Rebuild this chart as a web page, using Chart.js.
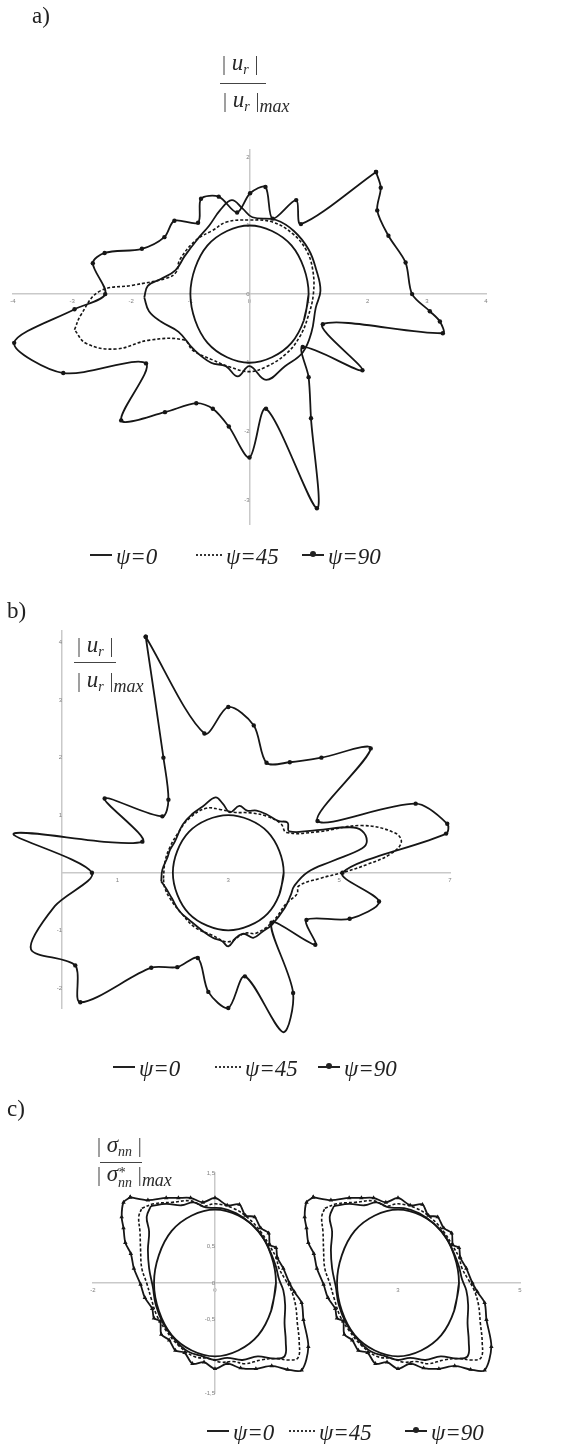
<!DOCTYPE html>
<html>
<head>
<meta charset="utf-8">
<script src="https://cdn.jsdelivr.net/npm/chart.js@4.4.0/dist/chart.umd.min.js"></script>
<style>
  body { margin: 0; background: #fff; }
  #page { position: relative; width: 565px; height: 1444px; overflow: hidden; font-family: "Liberation Serif", "DejaVu Serif", serif; color: #222; filter: grayscale(100%); }
  .abs { position: absolute; white-space: nowrap; }
  .lbl { font-size: 23px; line-height: 22px; }
  .frac { font-size: 23px; line-height: 24px; color: #2a2a2a; }
  .frac .bar { font-style: normal; color: #444; font-size: 20px; }
  .frac sub { font-size: 14px; vertical-align: -4px; }
  .frac .mx { font-style: italic; font-size: 18px; vertical-align: -5px; }
  .bar-line { position: absolute; height: 1px; background: #444; }
  .stk { display: inline-block; vertical-align: -6px; line-height: 10px; font-size: 14px; font-style: italic; }
  .leg { font-size: 23px; line-height: 24px; color: #222; }
  .leg i { font-style: italic; }
  .sym { display: inline-block; position: relative; vertical-align: middle; margin-right: 4px; height: 8px; }
  .sym.solid { width: 22px; border-top: 2px solid #222; }
  .sym.dash { width: 26px; border-top: 2px dotted #333; }
  .sym.mark { width: 22px; border-top: 2px solid #222; }
  .sym.mark::after { content: ""; position: absolute; left: 8px; top: -5px; width: 6px; height: 6px; border-radius: 50%; background: #222; }
  .cv { position: absolute; left: 0; }
</style>
</head>
<body>
<div id="page">
  <!-- a) -->
  <div class="abs lbl" style="left:32px;top:5px">a)</div>
  <div class="abs frac" style="left:222px;top:51px"><span class="bar">|</span> <i>u</i><sub><i>r</i></sub> <span class="bar">|</span></div>
  <div class="bar-line" style="left:220px;top:83px;width:46px"></div>
  <div class="abs frac" style="left:223px;top:88px"><span class="bar">|</span> <i>u</i><sub><i>r</i></sub> <span class="bar">|</span><span class="mx">max</span></div>
  <canvas id="chartA" class="cv" width="565" height="400" style="top:140px"></canvas>
  <div class="abs leg" style="left:90px;top:545px"><span class="sym solid"></span><i>ψ=0</i></div>
  <div class="abs leg" style="left:196px;top:545px"><span class="sym dash"></span><i>ψ=45</i></div>
  <div class="abs leg" style="left:302px;top:545px"><span class="sym mark"></span><i>ψ=90</i></div>

  <!-- b) -->
  <div class="abs lbl" style="left:7px;top:600px">b)</div>
  <div class="abs frac" style="left:77px;top:633px"><span class="bar">|</span> <i>u</i><sub><i>r</i></sub> <span class="bar">|</span></div>
  <div class="bar-line" style="left:74px;top:662px;width:42px"></div>
  <div class="abs frac" style="left:77px;top:668px"><span class="bar">|</span> <i>u</i><sub><i>r</i></sub> <span class="bar">|</span><span class="mx">max</span></div>
  <canvas id="chartB" class="cv" width="565" height="420" style="top:620px"></canvas>
  <div class="abs leg" style="left:113px;top:1057px"><span class="sym solid"></span><i>ψ=0</i></div>
  <div class="abs leg" style="left:215px;top:1057px"><span class="sym dash"></span><i>ψ=45</i></div>
  <div class="abs leg" style="left:318px;top:1057px"><span class="sym mark"></span><i>ψ=90</i></div>

  <!-- c) -->
  <div class="abs lbl" style="left:7px;top:1098px">c)</div>
  <div class="abs frac" style="left:97px;top:1133px"><span class="bar">|</span> <i>σ</i><sub><i>nn</i></sub> <span class="bar">|</span></div>
  <div class="bar-line" style="left:100px;top:1162px;width:42px"></div>
  <div class="abs frac" style="left:97px;top:1162px"><span class="bar">|</span> <i>σ</i><span class="stk">*<br>nn</span> <span class="bar">|</span><span class="mx">max</span></div>
  <canvas id="chartC" class="cv" width="565" height="240" style="top:1165px"></canvas>
  <div class="abs leg" style="left:207px;top:1421px"><span class="sym solid"></span><i>ψ=0</i></div>
  <div class="abs leg" style="left:289px;top:1421px"><span class="sym dash"></span><i>ψ=45</i></div>
  <div class="abs leg" style="left:405px;top:1421px"><span class="sym mark"></span><i>ψ=90</i></div>
</div>

<script>
// ---- panel a: |u_r| / |u_r|max ----
const aCircle = [[1,0],[0.92,-0.38],[0.71,-0.71],[0.38,-0.92],[0,-1],[-0.38,-0.92],[-0.71,-0.71],[-0.92,-0.38],[-1,0],[-0.92,0.38],[-0.71,0.71],[-0.38,0.92],[0,1],[0.38,0.92],[0.71,0.71],[0.92,0.38],[1,0],[0.92,-0.38]];
const aPsi0 = [[-1.78,-0.05],[-1.72,0.12],[-1.5,0.22],[-1.25,0.35],[-1.1,0.55],[-0.88,0.8],[-0.68,1.0],[-0.5,1.22],[-0.3,1.37],[-0.12,1.25],[0.05,1.12],[0.45,1.08],[0.75,0.92],[1.0,0.65],[1.13,0.35],[1.2,0.05],[1.12,-0.2],[1.05,-0.55],[0.9,-0.85],[0.6,-1.05],[0.28,-1.25],[0.0,-1.05],[-0.2,-1.2],[-0.4,-1.05],[-0.65,-1.0],[-0.95,-0.8],[-1.2,-0.55],[-1.5,-0.4],[-1.7,-0.25],[-1.78,-0.05]];
const aPsi45 = [[-2.96,-0.52],[-2.85,-0.3],[-2.54,0.04],[-1.97,0.13],[-1.41,0.23],[-1.24,0.32],[-1.18,0.5],[-0.9,0.79],[-0.62,0.93],[-0.39,1.05],[0.0,1.08],[0.39,1.05],[0.73,0.88],[0.96,0.64],[1.07,0.35],[1.08,0.0],[0.99,-0.33],[0.85,-0.62],[0.62,-0.87],[0.28,-1.06],[0.0,-1.13],[-0.34,-1.06],[-0.62,-0.96],[-0.96,-0.82],[-1.1,-0.67],[-1.69,-0.67],[-2.26,-0.8],[-2.76,-0.72],[-2.96,-0.52]];
const aPsi90 = [[2.14,1.78],[2.22,1.55],[2.16,1.22],[2.35,0.85],[2.64,0.46],[2.75,0.0],[3.05,-0.25],[3.22,-0.4],[3.27,-0.57],[1.24,-0.44],[1.91,-1.11],[0.90,-0.77],[1.0,-1.21],[1.04,-1.81],[1.14,-3.12],[0.28,-1.67],[0.0,-2.38],[-0.35,-1.93],[-0.62,-1.67],[-0.90,-1.59],[-1.43,-1.72],[-2.17,-1.84],[-1.75,-1.01],[-3.15,-1.15],[-3.98,-0.71],[-2.96,-0.22],[-2.44,0.0],[-2.65,0.45],[-2.45,0.6],[-1.82,0.66],[-1.44,0.83],[-1.27,1.07],[-0.87,1.04],[-0.82,1.39],[-0.52,1.42],[-0.21,1.19],[0.01,1.47],[0.27,1.56],[0.39,1.10],[0.79,1.37],[0.87,1.02],[2.14,1.78]];
const aXTicks = [-4,-3,-2,-1,0,1,2,3,4];
const aYTicks = [-3,-2,-1,0,1,2];

// ---- panel b ----
const bCircle = [[4,0],[3.92,-0.38],[3.71,-0.71],[3.38,-0.92],[3,-1],[2.62,-0.92],[2.29,-0.71],[2.08,-0.38],[2,0],[2.08,0.38],[2.29,0.71],[2.62,0.92],[3,1],[3.38,0.92],[3.71,0.71],[3.92,0.38],[4,0],[3.92,-0.38]];
const bPsi0 = [[1.79,-0.15],[1.81,0.05],[1.9,0.26],[1.95,0.4],[2.04,0.55],[2.18,0.84],[2.35,1.02],[2.55,1.16],[2.77,1.31],[2.9,1.2],[3.03,1.05],[3.2,1.16],[3.34,1.08],[3.51,1.08],[3.68,1.02],[3.9,0.9],[4.07,0.87],[4.1,0.72],[4.6,0.74],[5.2,0.79],[5.41,0.73],[5.5,0.55],[5.41,0.42],[4.87,0.2],[4.43,0.01],[4.19,-0.23],[4.13,-0.38],[4.02,-0.61],[3.79,-0.9],[3.62,-1.02],[3.45,-1.13],[3.28,-1.06],[3.14,-1.13],[3.0,-1.28],[2.89,-1.19],[2.72,-1.13],[2.55,-1.02],[2.32,-0.84],[2.12,-0.67],[1.98,-0.44],[1.87,-0.26],[1.79,-0.15]];
const bPsi45 = [[1.83,-0.1],[1.86,0.2],[1.95,0.45],[2.1,0.7],[2.3,0.95],[2.6,1.12],[2.85,1.1],[3.1,1.05],[3.4,1.04],[3.7,0.98],[3.95,0.85],[4.05,0.7],[4.6,0.71],[5.41,0.82],[6.01,0.69],[6.12,0.52],[5.9,0.31],[5.52,0.15],[5.09,0.01],[4.65,-0.1],[4.27,-0.23],[4.24,-0.37],[4.05,-0.53],[3.8,-0.85],[3.5,-1.05],[3.3,-1.05],[3.0,-1.2],[2.7,-1.08],[2.4,-0.95],[2.15,-0.7],[1.95,-0.45],[1.85,-0.25],[1.83,-0.1]];
const bPsi90 = [[1.51,4.10],[2.57,2.42],[3.0,2.88],[3.46,2.56],[3.69,1.91],[4.11,1.92],[4.68,2.0],[5.57,2.16],[4.61,0.9],[6.38,1.2],[6.95,0.85],[6.93,0.68],[5.06,0.0],[5.72,-0.5],[5.19,-0.8],[4.41,-0.82],[4.57,-1.25],[3.78,-0.87],[4.17,-2.09],[3.99,-2.77],[3.30,-1.80],[3.0,-2.35],[2.64,-2.07],[2.45,-1.48],[2.08,-1.64],[1.61,-1.65],[0.33,-2.25],[0.24,-1.61],[-0.56,-1.33],[-0.13,-0.58],[0.54,0.0],[-0.87,0.68],[1.45,0.54],[0.77,1.29],[1.81,0.98],[1.92,1.27],[1.83,2.0],[1.51,4.10]];
const bXTicks = [1,3,5,7];
const bYTicks = [-2,-1,1,2,3,4];

// ---- panel c: |σnn| / |σ*nn|max ----
const cCircleL = [[1,0],[0.92,-0.38],[0.71,-0.71],[0.38,-0.92],[0,-1],[-0.38,-0.92],[-0.71,-0.71],[-0.92,-0.38],[-1,0],[-0.92,0.38],[-0.71,0.71],[-0.38,0.92],[0,1],[0.38,0.92],[0.71,0.71],[0.92,0.38],[1,0],[0.92,-0.38]];
const cCircleR = [[4,0],[3.92,-0.38],[3.71,-0.71],[3.38,-0.92],[3,-1],[2.62,-0.92],[2.29,-0.71],[2.08,-0.38],[2,0],[2.08,0.38],[2.29,0.71],[2.62,0.92],[3,1],[3.38,0.92],[3.71,0.71],[3.92,0.38],[4,0],[3.92,-0.38]];
const cPsi0L = [[-1.05,1.05],[-0.8,1.08],[-0.55,1.06],[-0.35,1.1],[-0.15,1.03],[0.1,1.02],[0.35,0.95],[0.6,0.8],[0.8,0.6],[0.92,0.4],[1.0,0.22],[1.05,0.05],[1.12,-0.1],[1.15,-0.3],[1.14,-0.55],[1.16,-0.8],[1.14,-1.0],[0.95,-1.03],[0.7,-1.0],[0.45,-1.05],[0.2,-1.02],[0,-1.05],[-0.2,-1.0],[-0.45,-0.93],[-0.65,-0.78],[-0.85,-0.55],[-0.97,-0.3],[-1.02,-0.05],[-1.08,0.2],[-1.1,0.45],[-1.08,0.7],[-1.12,0.9],[-1.05,1.05]];
const cPsi0R = [[1.95,1.05],[2.2,1.08],[2.45,1.06],[2.65,1.1],[2.85,1.03],[3.1,1.02],[3.35,0.95],[3.6,0.8],[3.8,0.6],[3.92,0.4],[4.0,0.22],[4.05,0.05],[4.12,-0.1],[4.15,-0.3],[4.14,-0.55],[4.16,-0.8],[4.14,-1.0],[3.95,-1.03],[3.7,-1.0],[3.45,-1.05],[3.2,-1.02],[3.0,-1.05],[2.8,-1.0],[2.55,-0.93],[2.35,-0.78],[2.15,-0.55],[2.03,-0.3],[1.98,-0.05],[1.92,0.2],[1.9,0.45],[1.92,0.7],[1.88,0.9],[1.95,1.05]];
const cPsi45L = [[-1.2,1.02],[-1.0,1.08],[-0.7,1.1],[-0.4,1.12],[-0.2,1.05],[0,1.08],[0.3,1.02],[0.55,0.88],[0.75,0.7],[0.9,0.5],[1.0,0.35],[1.05,0.2],[1.15,0.05],[1.25,-0.1],[1.32,-0.3],[1.35,-0.55],[1.38,-0.8],[1.36,-1.02],[1.2,-1.05],[1.0,-1.03],[0.75,-1.05],[0.5,-1.1],[0.3,-1.07],[0.1,-1.08],[-0.1,-1.03],[-0.35,-1.0],[-0.6,-0.85],[-0.8,-0.65],[-0.95,-0.45],[-1.05,-0.2],[-1.12,0.0],[-1.2,0.2],[-1.22,0.45],[-1.23,0.7],[-1.25,0.9],[-1.2,1.02]];
const cPsi45R = [[1.8,1.02],[2.0,1.08],[2.3,1.1],[2.6,1.12],[2.8,1.05],[3.0,1.08],[3.3,1.02],[3.55,0.88],[3.75,0.7],[3.9,0.5],[4.0,0.35],[4.05,0.2],[4.15,0.05],[4.25,-0.1],[4.32,-0.3],[4.35,-0.55],[4.38,-0.8],[4.36,-1.02],[4.2,-1.05],[4.0,-1.03],[3.75,-1.05],[3.5,-1.1],[3.3,-1.07],[3.1,-1.08],[2.9,-1.03],[2.65,-1.0],[2.4,-0.85],[2.2,-0.65],[2.05,-0.45],[1.95,-0.2],[1.88,0.0],[1.8,0.2],[1.78,0.45],[1.77,0.7],[1.75,0.9],[1.8,1.02]];
const cPsi90L = [[-1.39,1.17],[-1.1,1.13],[-0.8,1.16],[-0.6,1.16],[-0.4,1.16],[-0.2,1.1],[0,1.16],[0.2,1.06],[0.4,1.07],[0.5,0.92],[0.65,0.9],[0.75,0.75],[0.88,0.68],[0.9,0.52],[1.0,0.48],[1.02,0.35],[1.12,0.2],[1.22,0.0],[1.3,-0.12],[1.42,-0.27],[1.45,-0.5],[1.53,-0.87],[1.42,-1.19],[1.19,-1.18],[0.93,-1.13],[0.67,-1.17],[0.42,-1.16],[0.2,-1.1],[0,-1.17],[-0.18,-1.08],[-0.37,-1.1],[-0.5,-0.95],[-0.65,-0.92],[-0.75,-0.78],[-0.88,-0.7],[-0.9,-0.52],[-1.0,-0.48],[-1.03,-0.35],[-1.15,-0.2],[-1.22,-0.02],[-1.33,0.2],[-1.38,0.4],[-1.47,0.55],[-1.5,0.75],[-1.53,0.9],[-1.5,1.1],[-1.39,1.17]];
const cPsi90R = [[1.61,1.17],[1.9,1.13],[2.2,1.16],[2.4,1.16],[2.6,1.16],[2.8,1.1],[3,1.16],[3.2,1.06],[3.4,1.07],[3.5,0.92],[3.65,0.9],[3.75,0.75],[3.88,0.68],[3.9,0.52],[4.0,0.48],[4.02,0.35],[4.12,0.2],[4.22,0.0],[4.3,-0.12],[4.42,-0.27],[4.45,-0.5],[4.53,-0.87],[4.42,-1.19],[4.19,-1.18],[3.93,-1.13],[3.67,-1.17],[3.42,-1.16],[3.2,-1.1],[3,-1.17],[2.82,-1.08],[2.63,-1.1],[2.5,-0.95],[2.35,-0.92],[2.25,-0.78],[2.12,-0.7],[2.1,-0.52],[2.0,-0.48],[1.97,-0.35],[1.85,-0.2],[1.78,-0.02],[1.67,0.2],[1.62,0.4],[1.53,0.55],[1.5,0.75],[1.47,0.9],[1.5,1.1],[1.61,1.17]];
const cXTicks = [-2,0,3,5];
const cYTicks = [-1.5,-0.5,0,0.5,1.5];

const INK = '#161616';

function pts(arr) {
    return arr.map(p => ({ x: p[0], y: p[1] }));
}

// one closed curve as a scatter line
function curve(label, arr, kind, marker) {
    const ds = {
        label: label,
        data: pts(arr),
        showLine: true,
        borderColor: INK,
        backgroundColor: INK,
        borderWidth: 1.8,
        tension: 0.4,
        pointRadius: 0,
        clip: false,
        capBezierPoints: false
    };
    if (kind === 'circle') ds.tension = 0.35;
    if (kind === 'dash') { ds.borderDash = [3, 2]; ds.borderWidth = 1.6; }
    if (kind === 'mark') {
        ds.tension = 0.3;
        ds.pointRadius = marker === 'triangle' ? 2.6 : 2.2;
        ds.pointStyle = marker || 'circle';
        ds.pointBackgroundColor = INK;
        ds.pointBorderWidth = 0;
    }
    return ds;
}

function axis(min, max, pos, ticks, isX) {
    return {
        type: 'linear',
        min: min,
        max: max,
        position: pos,
        grid: { display: false, drawTicks: false },
        border: { display: true, color: '#c9c9c9', width: 1.5 },
        ticks: {
            color: '#808080',
            font: { size: 6, family: 'Liberation Sans' },
            padding: isX ? 4 : 3,
            autoSkip: false,
            maxRotation: 0,
            callback: v => String(v).replace('.', ',')
        },
        afterBuildTicks: s => { s.ticks = ticks.map(v => ({ value: v })); },
        afterFit: s => { if (isX) s.height = 0; else s.width = 0; }
    };
}

function drawPanel(id, datasets, xr, yr, xt, yt, pad) {
    const ctx = document.getElementById(id).getContext('2d');
    return new Chart(ctx, {
        type: 'scatter',
        data: { datasets: datasets },
        options: {
            responsive: false,
            animation: false,
            layout: { padding: pad },
            plugins: { legend: { display: false }, tooltip: { enabled: false } },
            scales: {
                x: axis(xr[0], xr[1], { y: 0 }, xt, true),
                y: axis(yr[0], yr[1], { x: 0 }, yt, false)
            }
        }
    });
}

drawPanel('chartA', [
    curve('circle', aCircle, 'circle'),
    curve('ψ=0', aPsi0, 'solid'),
    curve('ψ=45', aPsi45, 'dash'),
    curve('ψ=90', aPsi90, 'mark')
], [-4, 4], [-3.35, 2.1], aXTicks, aYTicks, { left: 13, right: 79, top: 10, bottom: 16 });

drawPanel('chartB', [
    curve('circle', bCircle, 'circle'),
    curve('ψ=0', bPsi0, 'solid'),
    curve('ψ=45', bPsi45, 'dash'),
    curve('ψ=90', bPsi90, 'mark')
], [0, 7], [-2.35, 4.2], bXTicks, bYTicks, { left: 62, right: 115, top: 11, bottom: 32 });

drawPanel('chartC', [
    curve('circle', cCircleL, 'circle'),
    curve('circle', cCircleR, 'circle'),
    curve('ψ=0', cPsi0L, 'solid'),
    curve('ψ=0', cPsi0R, 'solid'),
    curve('ψ=45', cPsi45L, 'dash'),
    curve('ψ=45', cPsi45R, 'dash'),
    curve('ψ=90', cPsi90L, 'mark', 'triangle'),
    curve('ψ=90', cPsi90R, 'mark', 'triangle')
], [-2, 5], [-1.5, 1.5], cXTicks, cYTicks, { left: 93, right: 45, top: 8, bottom: 12 });
</script>
</body>
</html>
